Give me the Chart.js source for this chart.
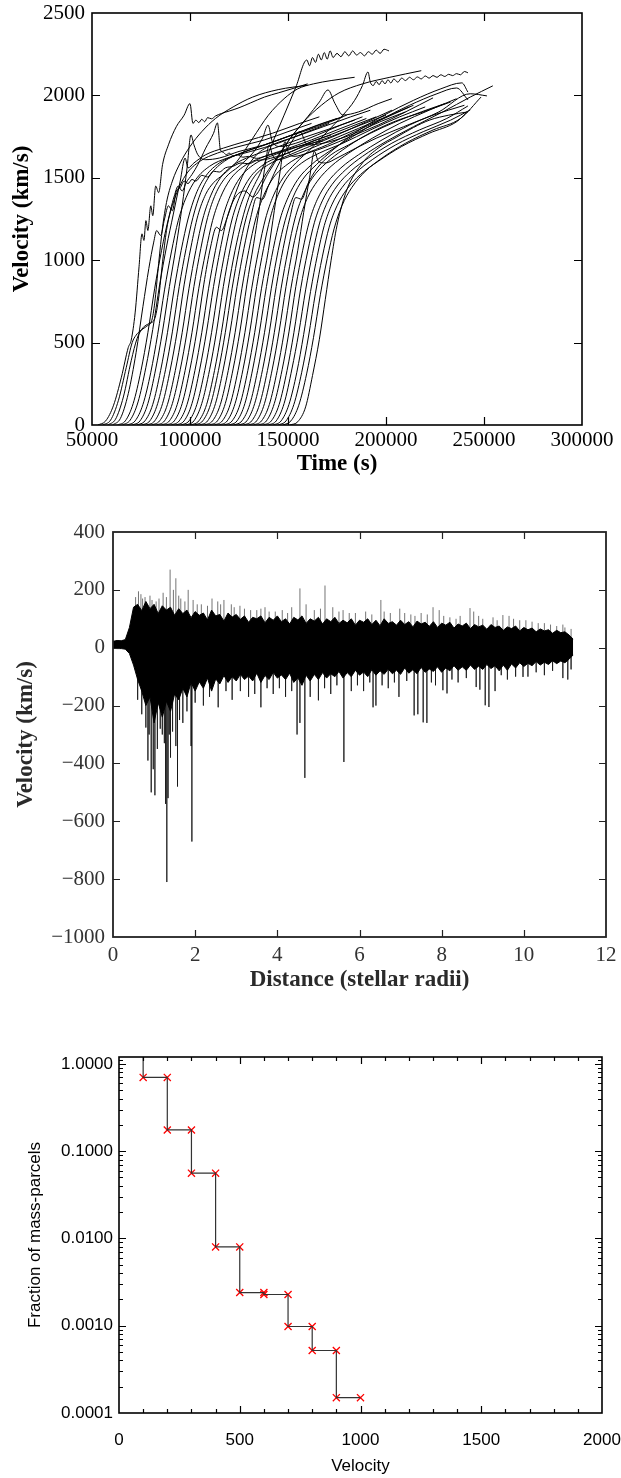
<!DOCTYPE html>
<html><head><meta charset="utf-8">
<script src="https://cdn.jsdelivr.net/npm/chart.js@4.4.1/dist/chart.umd.min.js"></script>
<style>
html,body{margin:0;padding:0;background:#fff;width:621px;height:1478px;overflow:hidden;}
canvas{position:absolute;left:0;display:block;}
</style></head><body>
<canvas id="cA" width="621" height="490" style="top:0px"></canvas>
<canvas id="cB" width="621" height="520" style="top:490px"></canvas>
<canvas id="cC" width="621" height="468" style="top:1010px"></canvas>
<script>
// ---------- Panel 1: velocity vs time (time in thousands of s, velocity km/s) ----------
const timeTicks = [50000,100000,150000,200000,250000,300000];
const velocityTicks = [0,500,1000,1500,2000,2500];
const run01 = [53,0, 57,25, 61,120, 65,290, 68.5,470, 70,515, 72,680, 74,960, 75.5,1160, 76.5,1120, 77.5,1240, 78.5,1180, 80,1330, 81,1270, 82.5,1450, 84,1410, 86,1580, 89,1700, 93,1810, 97,1880, 100,1950, 101.5,1830, 103,1850, 104.5,1835, 106,1855, 107.5,1840, 109,1865, 111,1858, 113,1875, 116,1890, 120,1905, 125,1925, 131,1955, 138,1990, 145,2015, 152,2040, 160,2070];
const run02 = [55.5,0, 59.5,30, 63.5,150, 67.5,350, 70.5,500, 72.5,545, 75,575, 78,600, 80.5,635, 82,740, 84,980, 86,1200, 88,1350, 91,1480, 95,1590, 100,1690, 106,1780, 113,1860, 122,1930, 132,1990, 145,2035, 160,2062];
const run03 = [58,0, 62,35, 66,170, 70,390, 73,525, 76,590, 79,615, 82,645, 84,770, 86,990, 88,1180, 90,1300, 92,1390, 94,1450, 96,1420, 98,1470, 101,1520, 104,1580, 108,1680, 112,1770, 114,1833, 115.5,1670, 117,1655, 118.5,1640, 120,1650, 122,1632, 124,1640, 127,1625, 130,1630, 134,1618, 138,1630, 144,1650, 152,1680, 160,1705, 168,1725];
const run04 = [60.5,0, 64.5,40, 68.5,190, 72.5,440, 76,720, 79,950, 81.5,1110, 83,1180, 85,1150, 87,1250, 89,1330, 91,1300, 93,1420, 95,1440, 97,1480, 99,1465, 101,1490, 103,1480, 106,1515, 109,1505, 112,1540, 115,1535, 118,1560, 122,1570, 126,1590, 130,1585, 134,1605, 138,1610, 144,1628, 152,1660, 162,1720, 172,1760];
const run05 = [63,0, 67,25, 71,130, 75,330, 78.5,560, 82,830, 85.5,1060, 89,1250, 93,1400, 98,1520, 105,1600, 114,1650, 125,1690, 138,1730, 150,1780, 162,1830];
const run06 = [65.5,0, 69.5,30, 73.5,140, 77.5,350, 81,580, 84.5,850, 88,1080, 91.5,1280, 95,1480, 97.5,1620, 99,1560, 102,1590, 108,1640, 117,1680, 128,1720, 142,1770, 156,1830, 166,1870];
const run07 = [68,0, 72,25, 76,125, 80,320, 83.5,550, 87,820, 90.5,1050, 94,1240, 98,1380, 103,1490, 110,1570, 119,1620, 131,1660, 145,1710, 160,1780, 171,1830];
const run08 = [70.5,0, 74.5,25, 78.5,130, 82.5,340, 86,570, 89.5,840, 93,1090, 96,1330, 98.5,1560, 100.5,1760, 102,1700, 104,1640, 108,1610, 115,1620, 125,1660, 138,1700, 152,1760, 165,1820, 175,1860];
const run09 = [73,0, 77,25, 81,125, 85,330, 88.5,560, 92,830, 95.5,1060, 99,1250, 103,1400, 108,1510, 115,1590, 124,1640, 136,1690, 150,1750, 165,1810, 178,1870];
const run10 = [75.5,0, 79.5,25, 83.5,130, 87.5,335, 91,565, 94.5,840, 98,1070, 101.5,1260, 105.5,1410, 110.5,1520, 117.5,1600, 126,1650, 138,1700, 152,1760, 168,1830, 180,1880];
const run11 = [78,0, 82,25, 86,130, 90,340, 93.5,570, 97,850, 100.5,1080, 104,1270, 108,1400, 112,1470, 117,1520, 124,1600, 132,1740, 140,1880, 148,1980, 155,2040, 163,2070, 172,2090, 184,2110];
const run12 = [80.5,0, 84.5,25, 88.5,125, 92.5,330, 96,560, 99.5,830, 103,1060, 106.5,1250, 110.5,1390, 115.5,1500, 122.5,1580, 131,1630, 143,1680, 157,1740, 172,1800, 184,1850];
const run13 = [83,0, 87,25, 91,130, 95,335, 98.5,565, 102,840, 105.5,1070, 109,1260, 113,1400, 118,1500, 125,1570, 132,1650, 137,1740, 139.8,1820, 142,1720, 146,1690, 154,1710, 165,1760, 177,1820, 188,1870];
const run14 = [85.5,0, 89.5,25, 93.5,125, 97.5,330, 101,560, 104.5,830, 108,1050, 111.5,1240, 115.5,1380, 120.5,1490, 127.5,1570, 136,1620, 148,1670, 162,1730, 177,1800, 190,1860];
const run15 = [88,0, 92,25, 96,130, 100,340, 103.5,570, 107,850, 110.5,1080, 113.5,1200, 116,1180, 119,1260, 123,1400, 128,1540, 134,1640, 142,1700, 154,1750, 168,1810, 182,1870, 192,1910];
const run16 = [90.5,0, 94.5,25, 98.5,125, 102.5,330, 106,560, 109.5,830, 113,1060, 116.5,1250, 120.5,1390, 125.5,1500, 132.5,1580, 141,1630, 153,1680, 167,1740, 182,1810, 195,1870];
const run17 = [93,0, 97,25, 101,130, 105,340, 108.5,570, 112,840, 115.5,1070, 119,1260, 123,1380, 128,1420, 132,1384, 140,1530, 150,1720, 160,1870, 166,1960, 170.4,2033, 174,1950, 178,1881, 186,1900, 196,1950, 203,1980];
const run18 = [95.5,0, 99.5,25, 103.5,125, 107.5,330, 111,560, 114.5,830, 118,1060, 121.5,1250, 125.5,1390, 130.5,1500, 137.5,1580, 146,1630, 158,1690, 172,1750, 187,1820, 200,1880];
const run19 = [98,0, 102,25, 106,130, 110,335, 113.5,565, 117,840, 120.5,1070, 124,1260, 128,1400, 133,1510, 140,1580, 149,1630, 161,1690, 175,1760, 190,1840, 203,1910];
const run20 = [100.5,0, 104.5,25, 108.5,125, 112.5,330, 116,560, 119.5,830, 123,1060, 126.5,1240, 130,1380, 133,1460, 136,1530, 142,1710, 148,1880, 154,2050, 159.6,2215, 161,2180, 162.5,2230, 164,2200, 165.5,2250, 167,2215, 168.5,2260, 170,2220, 171.5,2270, 173,2230, 175,2255, 177,2235, 179,2265, 181,2240, 183,2270, 185,2245, 187,2260, 189,2240, 191,2265, 193,2250, 195,2275, 197,2255, 199,2280, 201.5,2270];
const run21 = [102.5,0, 106.5,25, 110.5,125, 114.5,330, 118,560, 121.5,830, 125,1060, 128.5,1250, 132.5,1390, 137.5,1500, 143,1600, 150,1720, 158,1840, 167,1940, 176,2015, 188,2070, 202,2110, 218,2150];
const run22 = [105,0, 109,25, 113,130, 117,340, 120.5,570, 124,840, 127.5,1070, 131,1260, 134,1380, 137,1370, 140,1450, 146,1600, 152,1720, 156,1780, 160,1700, 168,1710, 182,1760, 197,1840, 210,1900];
const run23 = [107.5,0, 111.5,25, 115.5,125, 119.5,330, 123,560, 126.5,830, 130,1060, 133.5,1250, 137.5,1390, 142.5,1500, 149.5,1580, 158,1640, 170,1700, 184,1780, 199,1860, 212,1930];
const run24 = [110,0, 114,25, 118,130, 122,340, 125.5,570, 129,850, 132.5,1100, 135.5,1330, 138,1550, 140.5,1700, 142,1640, 145,1610, 151,1630, 160,1670, 172,1730, 186,1800, 200,1870, 214,1940];
const run25 = [112.5,0, 116.5,25, 120.5,125, 124.5,330, 128,560, 131.5,830, 135,1060, 138.5,1250, 142.5,1390, 147.5,1500, 154,1590, 162,1680, 170,1780, 178,1880, 184,1970, 188,2060, 190.8,2142, 192,2080, 193.5,2060, 195,2085, 196.5,2065, 198,2090, 199.5,2070, 201,2095, 202.5,2075, 204,2100, 206,2080, 208,2105, 210,2090, 212,2110, 214,2095, 216,2112, 218,2100, 220,2118, 222,2105, 224,2120, 226,2110, 228,2125, 230,2115, 232,2128, 234,2120, 236,2132, 238,2125, 240,2145, 241.8,2137];
const run26 = [115,0, 119,25, 123,130, 127,335, 130.5,565, 134,840, 137.5,1070, 141,1260, 145,1400, 150,1510, 157,1590, 166,1650, 178,1710, 192,1790, 207,1870, 220,1930];
const run27 = [117.5,0, 121.5,25, 125.5,125, 129.5,330, 133,560, 136.5,830, 140,1060, 143,1300, 146,1540, 148.5,1720, 150,1660, 153,1630, 160,1650, 170,1690, 182,1750, 196,1820, 210,1900, 224,1985];
const run28 = [120,0, 124,25, 128,130, 132,340, 135.5,570, 139,840, 142.5,1070, 146,1250, 150,1380, 155,1490, 162,1580, 171,1660, 183,1750, 197,1850, 212,1940, 226,2010, 236,2045, 241.8,1973];
const run29 = [122.5,0, 126.5,25, 130.5,125, 134.5,330, 138,560, 141.5,830, 145,1060, 148.5,1240, 152.5,1380, 157.5,1490, 164.5,1580, 173,1670, 185,1780, 199,1880, 214,1970, 228,2040, 238.7,2076, 241.8,2020];
const run30 = [125,0, 129,25, 133,130, 137,335, 140.5,565, 144,840, 147.5,1070, 151,1260, 154,1380, 157,1370, 160,1460, 165,1560, 172,1640, 181,1700, 192,1770, 205,1840, 218,1900, 230,1950];
const run31 = [127.5,0, 131.5,25, 135.5,125, 139.5,330, 143,560, 146.5,830, 150,1060, 153.5,1250, 157.5,1390, 162.5,1500, 169.5,1590, 178,1670, 190,1760, 204,1840, 219,1900, 233,1960];
const run32 = [130,0, 134,25, 138,130, 142,340, 145.5,570, 149,840, 152.5,1070, 156,1250, 160,1380, 165,1480, 172,1570, 181,1650, 193,1740, 207,1830, 222,1910, 236,1980];
const run33 = [132.5,0, 136.5,25, 140.5,125, 144.5,330, 148,560, 151.5,830, 155,1060, 158,1290, 161,1500, 163.5,1660, 165.5,1600, 169,1590, 175,1620, 183,1670, 195,1740, 209,1810, 224,1880, 240,1940];
const run34 = [135,0, 139,25, 143,130, 147,335, 150.5,565, 154,840, 157.5,1060, 161,1240, 165,1370, 170,1470, 177,1560, 186,1640, 198,1730, 212,1820, 227,1900, 243,2010, 251.5,1997];
const run35 = [137.5,0, 141.5,25, 145.5,125, 149.5,330, 153,560, 156.5,830, 160,1050, 163.5,1230, 167.5,1360, 172.5,1460, 179.5,1550, 188,1630, 200,1720, 214,1810, 229,1900, 243,1990, 254.5,2058];
const run36 = [140,0, 144,25, 148,130, 152,340, 155.5,560, 159,820, 162.5,1040, 166,1220, 170,1350, 175,1450, 182,1540, 191,1620, 203,1710, 217,1790, 231,1860, 241.8,1936];
const run37 = [142.5,0, 146.5,25, 150.5,125, 154.5,320, 158,550, 161.5,810, 165,1030, 168.5,1210, 172.5,1340, 177.5,1440, 184.5,1530, 193,1610, 205,1700, 219,1780, 233,1850, 243,1912];
const run38 = [145,0, 149,25, 153,125, 157,320, 160.5,540, 164,800, 167.5,1020, 171,1200, 175,1330, 180,1430, 187,1520, 196,1600, 208,1690, 222,1770, 236,1840, 241,1894];
const run39 = [147.5,0, 151.5,25, 155.5,120, 159.5,310, 163,530, 166.5,790, 170,1010, 173.5,1190, 177.5,1330, 182.5,1440, 189.5,1540, 198,1620, 210,1710, 224,1790, 238,1860, 248.5,1990];
const run40 = [151,0, 155,20, 159,110, 162.5,300, 166,520, 169,760, 172,1000, 175,1210, 180,1426, 188,1590, 196,1680, 205.6,1748, 214,1805, 222.4,1851, 232,1880, 241.8,1900];
const runs = [run01,run02,run03,run04,run05,run06,run07,run08,run09,run10,run11,run12,run13,run14,run15,run16,run17,run18,run19,run20,
              run21,run22,run23,run24,run25,run26,run27,run28,run29,run30,run31,run32,run33,run34,run35,run36,run37,run38,run39,run40];

// ---------- Panel 2: velocity vs distance ----------
const distTicks = [0,2,4,6,8,10,12];
const velTicksB = [-1000,-800,-600,-400,-200,0,200,400];
const distance = [0,0.1,0.2,0.3,0.4,0.5,0.6,0.7,0.8,0.9,1.0,1.1,1.2,1.3,1.4,1.5,1.6,1.7,1.8,1.9,2.0,2.1,2.2,2.3,2.4,2.5,2.6,2.7,2.8,2.9,3.0,3.1,3.2,3.3,3.4,3.5,3.6,3.7,3.8,3.9,4.0,4.1,4.2,4.3,4.4,4.5,4.6,4.7,4.8,4.9,5.0,5.1,5.2,5.3,5.4,5.5,5.6,5.7,5.8,5.9,6.0,6.1,6.2,6.3,6.4,6.5,6.6,6.7,6.8,6.9,7.0,7.1,7.2,7.3,7.4,7.5,7.6,7.7,7.8,7.9,8.0,8.1,8.2,8.3,8.4,8.5,8.6,8.7,8.8,8.9,9.0,9.1,9.2,9.3,9.4,9.5,9.6,9.7,9.8,9.9,10.0,10.1,10.2,10.3,10.4,10.5,10.6,10.7,10.8,10.9,11.0,11.1,11.2];
const bandTop = [22,25,24,28,70,140,150,128,160,135,150,118,145,130,140,112,135,118,130,104,125,112,120,96,130,110,115,92,120,106,115,98,110,88,105,100,110,86,105,95,110,90,100,82,105,96,110,84,100,92,105,82,100,90,105,84,95,86,100,78,95,88,100,80,95,76,100,84,90,78,95,80,90,72,92,82,88,74,90,70,85,78,88,68,82,75,85,66,80,72,78,64,80,70,75,60,72,66,75,58,70,62,68,55,65,58,62,50,60,52,55,44,30];
const bandBottom = [-2,-3,-3,-5,-20,-60,-110,-150,-200,-170,-260,-190,-240,-185,-220,-160,-180,-140,-170,-120,-150,-118,-140,-105,-150,-108,-125,-96,-120,-100,-115,-92,-110,-98,-115,-88,-120,-96,-110,-85,-105,-94,-110,-88,-120,-104,-130,-95,-115,-92,-110,-86,-105,-90,-100,-82,-105,-86,-100,-78,-95,-84,-100,-76,-95,-80,-92,-74,-90,-78,-92,-70,-88,-76,-90,-68,-85,-74,-82,-66,-85,-70,-80,-62,-78,-66,-78,-60,-75,-64,-75,-58,-72,-62,-80,-60,-78,-56,-70,-52,-65,-54,-62,-48,-60,-50,-58,-45,-55,-46,-52,-40,-25];
const spikesUp = [[0.55,175],[0.62,195],[0.68,185],[0.72,170],[0.78,175],[0.9,180],[0.95,165],[1.05,160],[1.12,170],[1.22,190],[1.3,175],[1.39,270],[1.47,200],[1.53,240],[1.6,180],[1.65,170],[1.75,160],[1.83,200],[1.95,165],[2.05,150],[2.15,150],[2.3,145],[2.41,170],[2.55,160],[2.62,150],[2.7,165],[2.88,150],[2.95,140],[3.09,145],[3.2,135],[3.35,130],[3.5,130],[3.6,135],[3.7,140],[3.8,125],[3.95,125],[4.12,130],[4.25,120],[4.35,140],[4.55,205],[4.7,150],[4.9,130],[5.05,135],[5.16,215],[5.35,140],[5.5,125],[5.6,130],[5.75,120],[5.9,120],[6.15,125],[6.3,115],[6.52,165],[6.6,125],[6.75,120],[6.98,135],[7.1,120],[7.25,115],[7.35,110],[7.5,120],[7.65,115],[7.79,140],[7.94,130],[8.05,110],[8.2,105],[8.35,100],[8.45,110],[8.69,137],[8.78,125],[8.9,110],[9.0,100],[9.25,105],[9.35,95],[9.49,113],[9.64,110],[9.75,100],[9.9,95],[10.05,95],[10.2,90],[10.35,85],[10.5,85],[10.65,80],[10.8,75],[10.95,80],[11.0,70],[11.15,65]];
const spikesDown = [[0.6,-180],[0.7,-230],[0.8,-276],[0.85,-390],[0.88,-300],[0.93,-500],[0.98,-420],[1.02,-510],[1.08,-350],[1.15,-280],[1.2,-300],[1.25,-330],[1.28,-540],[1.31,-810],[1.34,-520],[1.37,-300],[1.4,-380],[1.45,-290],[1.53,-340],[1.57,-480],[1.62,-250],[1.7,-260],[1.8,-220],[1.9,-340],[1.92,-670],[2.0,-190],[2.2,-200],[2.35,-170],[2.56,-206],[2.75,-150],[2.9,-180],[3.1,-150],[3.3,-170],[3.45,-160],[3.6,-206],[3.75,-140],[3.9,-160],[4.05,-140],[4.2,-170],[4.35,-150],[4.48,-300],[4.55,-260],[4.67,-450],[4.8,-170],[5.0,-182],[5.15,-140],[5.3,-160],[5.45,-130],[5.62,-395],[5.8,-150],[5.95,-130],[6.1,-150],[6.25,-120],[6.33,-206],[6.4,-200],[6.55,-130],[6.7,-140],[6.85,-120],[6.96,-170],[7.15,-115],[7.33,-234],[7.42,-230],[7.55,-258],[7.64,-260],[7.75,-120],[7.85,-130],[8.03,-147],[8.13,-158],[8.25,-110],[8.4,-120],[8.6,-105],[8.84,-136],[8.93,-145],[9.06,-199],[9.15,-205],[9.3,-150],[9.45,-95],[9.6,-110],[9.8,-100],[9.98,-101],[10.1,-100],[10.3,-85],[10.5,-95],[10.7,-80],[10.95,-105],[11.07,-110],[11.15,-75]];

// ---------- Panel 3: fraction of mass-parcels vs velocity ----------
const velTicksC = [0,500,1000,1500,2000];
const fracDecades = [0.0001,0.001,0.01,0.1,1];
const binVelocity = [100,200,200,300,300,400,400,500,500,600,600,700,700,800,800,900,900,1000];
const binFraction = [0.70,0.70,0.175,0.175,0.056,0.056,0.0080,0.0080,0.0024,0.0024,0.00228,0.00228,0.00098,0.00098,0.00052,0.00052,0.00015,0.00015];
const leadVelocity = 100, leadFraction = 1.2;

// ---------- helpers ----------
const SERIF = "'Liberation Serif', 'Times New Roman', serif";
const SANS = "'Liberation Sans', Arial, sans-serif";
const pairs = (r, k) => { const o = []; for (let i = 0; i < r.length; i += 2) o.push({x: r[i] * k, y: r[i + 1]}); return o; };
const minus = v => v < 0 ? '\u2212' + Math.abs(v) : String(v);
// invisible tick marks whose length sets the gap between axis and labels
const gap = n => ({ display: false, drawTicks: true, tickLength: n });

function frame(cfg) {
  return {
    id: 'frame_' + cfg.id,
    afterDatasetsDraw(chart) {
      const {ctx, chartArea: a} = chart;
      const xs = chart.scales.x, ys = chart.scales.y;
      ctx.save();
      ctx.strokeStyle = cfg.color;
      ctx.lineWidth = cfg.tickWidth;
      ctx.beginPath();
      const xt = (vals, len) => vals.forEach(v => { const p = Math.round(xs.getPixelForValue(v)) + 0.5; if (p < a.left + 1 || p > a.right - 1) return; ctx.moveTo(p, a.bottom); ctx.lineTo(p, a.bottom - len); ctx.moveTo(p, a.top); ctx.lineTo(p, a.top + len); });
      const yt = (vals, len) => vals.forEach(v => { const p = Math.round(ys.getPixelForValue(v)) + 0.5; if (p < a.top + 1 || p > a.bottom - 1) return; ctx.moveTo(a.left, p); ctx.lineTo(a.left + len, p); ctx.moveTo(a.right, p); ctx.lineTo(a.right - len, p); });
      xt(xs.ticks.map(t => t.value), cfg.major);
      yt(ys.ticks.map(t => t.value), cfg.major);
      if (cfg.xMinor) xt(cfg.xMinor, cfg.minor);
      if (cfg.yMinor) yt(cfg.yMinor, cfg.minor);
      ctx.stroke();
      ctx.lineWidth = cfg.frameWidth;
      ctx.strokeRect(a.left, a.top, a.right - a.left, a.bottom - a.top);
      ctx.restore();
    }
  };
}
const base = { responsive: false, animation: false, events: [], plugins: { legend: { display: false }, tooltip: { enabled: false } } };

// ---------- Chart A ----------
new Chart(document.getElementById('cA'), {
  type: 'line',
  data: { datasets: runs.map(r => ({ data: pairs(r, 1000), borderColor: '#000', borderWidth: 1, pointRadius: 0, cubicInterpolationMode: 'monotone', fill: false })) },
  options: Object.assign({}, base, {
    layout: { padding: { top: 13, right: 39, left: 0, bottom: 0 } },
    scales: {
      x: { type: 'linear', min: 50000, max: 300000,
        afterBuildTicks: s => { s.ticks = timeTicks.map(v => ({ value: v })); },
        afterFit: s => { s.height = 65; },
        grid: gap(2.5), border: { display: false },
        ticks: { padding: 0, maxRotation: 0, autoSkip: false, color: '#000', font: { family: SERIF, size: 21 }, callback: v => String(v) },
        title: { display: true, text: 'Time (s)', color: '#000', font: { family: SERIF, size: 23, weight: 'bold' }, padding: { top: 0, bottom: 12 } } },
      y: { type: 'linear', min: 0, max: 2500,
        afterBuildTicks: s => { s.ticks = velocityTicks.map(v => ({ value: v })); },
        afterFit: s => { s.width = 92; },
        grid: gap(7), border: { display: false },
        ticks: { padding: 0, autoSkip: false, color: '#000', font: { family: SERIF, size: 21 }, callback: v => String(v) },
        title: { display: true, text: 'Velocity (km/s)', color: '#000', font: { family: SERIF, size: 23, weight: 'bold' }, padding: { top: 8, bottom: 0 } } }
    }
  }),
  plugins: [frame({ id: 'A', color: '#000', tickWidth: 1.2, frameWidth: 1.6, major: 8 })]
});

// ---------- Chart B ----------
const spikeData = [];
for (const [d, v] of spikesDown.concat(spikesUp)) { spikeData.push({ x: d, y: 0 }, { x: d, y: v }, { x: d, y: null }); }
new Chart(document.getElementById('cB'), {
  type: 'line',
  data: { datasets: [
    { data: distance.map((d, i) => ({ x: d, y: bandTop[i] })), borderColor: '#000', borderWidth: 1, backgroundColor: '#000', fill: '+1', pointRadius: 0, tension: 0 },
    { data: distance.map((d, i) => ({ x: d, y: bandBottom[i] })), borderColor: '#000', borderWidth: 1, fill: false, pointRadius: 0, tension: 0 },
    { data: spikeData, borderColor: 'rgba(0,0,0,0.55)', borderWidth: 1, fill: false, pointRadius: 0, tension: 0, spanGaps: false }
  ] },
  options: Object.assign({}, base, {
    layout: { padding: { top: 42, right: 15, left: 0, bottom: 0 } },
    scales: {
      x: { type: 'linear', min: 0, max: 12,
        afterBuildTicks: s => { s.ticks = distTicks.map(v => ({ value: v })); },
        afterFit: s => { s.height = 73; },
        grid: gap(5.5), border: { display: false },
        ticks: { padding: 0, maxRotation: 0, autoSkip: false, color: '#333', font: { family: SERIF, size: 21 }, callback: v => String(v) },
        title: { display: true, text: 'Distance (stellar radii)', color: '#2a2a2a', font: { family: SERIF, size: 23, weight: 'bold' }, padding: { top: 0, bottom: 16 } } },
      y: { type: 'linear', min: -1000, max: 400,
        afterBuildTicks: s => { s.ticks = velTicksB.map(v => ({ value: v })); },
        afterFit: s => { s.width = 113; },
        grid: gap(8), border: { display: false },
        ticks: { padding: 0, autoSkip: false, color: '#333', font: { family: SERIF, size: 21 }, callback: v => minus(v) },
        title: { display: true, text: 'Velocity (km/s)', color: '#2a2a2a', font: { family: SERIF, size: 23, weight: 'bold' }, padding: { top: 12, bottom: 0 } } }
    }
  }),
  plugins: [frame({ id: 'B', color: '#222', tickWidth: 1.2, frameWidth: 1.8, major: 7 })]
});

// ---------- Chart C ----------
const xMinorC = []; for (let v = 100; v < 2000; v += 100) if (v % 500) xMinorC.push(v);
const yMinorC = []; for (const d of [0.0001, 0.001, 0.01, 0.1]) for (let m = 2; m <= 9; m++) yMinorC.push(d * m);
yMinorC.push(1.1, 1.2);
new Chart(document.getElementById('cC'), {
  type: 'line',
  data: { datasets: [
    { data: [{ x: leadVelocity, y: leadFraction }].concat(binVelocity.map((v, i) => ({ x: v, y: binFraction[i] }))), borderColor: '#333', borderWidth: 1.2, pointRadius: 0, fill: false, tension: 0 },
    { data: binVelocity.map((v, i) => ({ x: v, y: binFraction[i] })), showLine: false, pointStyle: 'crossRot', pointRadius: 5, borderWidth: 1.3, borderColor: '#ff0000', backgroundColor: '#ff0000' }
  ] },
  options: Object.assign({}, base, {
    layout: { padding: { top: 47, right: 19, left: 0, bottom: 0 } },
    scales: {
      x: { type: 'linear', min: 0, max: 2000,
        afterBuildTicks: s => { s.ticks = velTicksC.map(v => ({ value: v })); },
        afterFit: s => { s.height = 65; },
        grid: gap(17), border: { display: false },
        ticks: { padding: 0, maxRotation: 0, autoSkip: false, color: '#000', font: { family: SANS, size: 17 }, callback: v => String(v) },
        title: { display: true, text: 'Velocity', color: '#000', font: { family: SANS, size: 17 }, padding: { top: 0, bottom: 1 } } },
      y: { type: 'logarithmic', min: 0.0001, max: 1.2,
        afterBuildTicks: s => { s.ticks = fracDecades.map(v => ({ value: v })); },
        afterFit: s => { s.width = 119; },
        grid: gap(6), border: { display: false },
        ticks: { padding: 0, autoSkip: false, color: '#000', font: { family: SANS, size: 17 }, callback: v => Number(v).toFixed(4) },
        title: { display: true, text: 'Fraction of mass-parcels', color: '#000', font: { family: SANS, size: 17 }, padding: { top: 25, bottom: 0 } } }
    }
  }),
  plugins: [frame({ id: 'C', color: '#000', tickWidth: 1.2, frameWidth: 1.6, major: 7, minor: 4, xMinor: xMinorC, yMinor: yMinorC })]
});
</script>
</body></html>
